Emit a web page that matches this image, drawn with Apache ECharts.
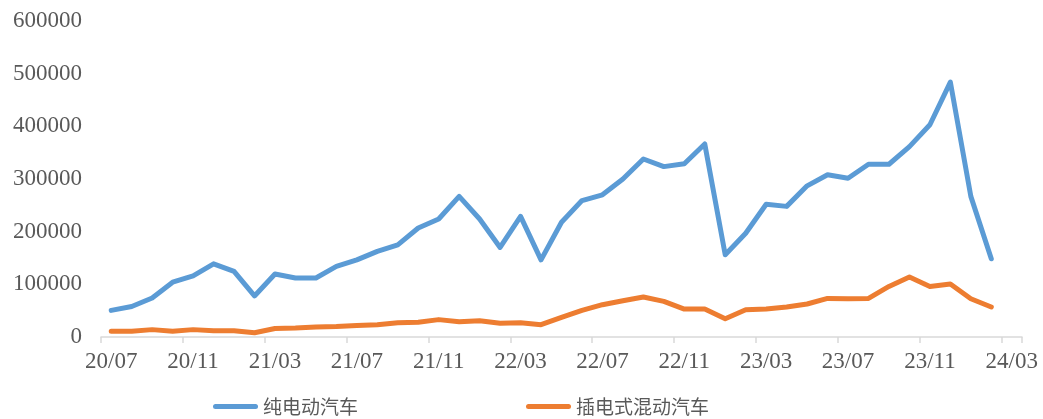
<!DOCTYPE html>
<html>
<head>
<meta charset="utf-8">
<script src="https://cdn.jsdelivr.net/npm/echarts@6/dist/echarts.min.js"></script>
<style>html,body{margin:0;padding:0;background:#fff}#c{width:1043px;height:419px}</style>
</head>
<body>
<div id="c"></div>
<script>
const categories = ['20/07','20/08','20/09','20/10','20/11','20/12','21/01','21/02','21/03','21/04','21/05','21/06',
'21/07','21/08','21/09','21/10','21/11','21/12','22/01','22/02','22/03','22/04','22/05','22/06',
'22/07','22/08','22/09','22/10','22/11','22/12','23/01','23/02','23/03','23/04','23/05','23/06',
'23/07','23/08','23/09','23/10','23/11','23/12','24/01','24/02','24/03'];
const bevValues = [50500,58000,74000,104000,116000,139000,124500,78000,119500,112000,112000,134000,
146500,162500,175000,207000,224000,267000,224000,170000,229000,146500,218000,259000,
270000,300000,338000,323500,329000,366500,156000,197000,252000,248000,287000,308000,
301500,328000,328000,361500,403000,484000,267000,148500];
const phevValues = [10700,10700,14000,11000,14000,12000,12000,8000,16000,17000,19000,20000,
22000,23400,27000,28000,33000,29000,31000,26000,27000,23400,37200,50500,
61300,68900,75900,67600,53100,53100,34700,51800,53100,56900,62600,73300,
72700,73300,96000,113800,96000,100500,72700,56900];
const seriesNames = ['纯电动汽车','插电式混动汽车'];
const yTicks = {min:0, max:600000, interval:100000};

const chart = echarts.init(document.getElementById('c'));
const textColor = '#595959';
const barIcon = 'path://M2.5,0H42.5A2.5,2.5,0,0,1,42.5,5H2.5A2.5,2.5,0,0,1,2.5,0Z';
chart.setOption({
  animation:false,
  grid:{left:101, right:21, top:21, bottom:82},
  legend:{
    left:208, top:392, itemWidth:45, itemHeight:5, itemGap:168,
    textStyle:{fontFamily:'Noto Sans CJK SC', fontSize:19, color:textColor},
    data:[{name:seriesNames[0], icon:barIcon},{name:seriesNames[1], icon:barIcon}]
  },
  xAxis:{
    type:'category', data:categories, boundaryGap:true,
    axisLine:{lineStyle:{color:'#d9d9d9', width:1.5}},
    axisTick:{show:true, interval:3, length:6, lineStyle:{color:'#d9d9d9', width:1.5}},
    axisLabel:{interval:3, margin:13, color:textColor, fontFamily:'Liberation Serif', fontSize:23}
  },
  yAxis:{
    type:'value', min:yTicks.min, max:yTicks.max, interval:yTicks.interval,
    splitLine:{show:false}, axisLine:{show:false}, axisTick:{show:false},
    axisLabel:{margin:19, color:textColor, fontFamily:'Liberation Serif', fontSize:23,
      formatter:function(v){return String(v);}}
  },
  series:[
    {name:seriesNames[0], type:'line', data:bevValues, symbol:'none', color:'#5B9BD5',
     lineStyle:{width:5, color:'#5B9BD5', cap:'round', join:'round'}},
    {name:seriesNames[1], type:'line', data:phevValues, symbol:'none', color:'#ED7D31',
     lineStyle:{width:5, color:'#ED7D31', cap:'round', join:'round'}}
  ]
});
</script>
</body>
</html>
